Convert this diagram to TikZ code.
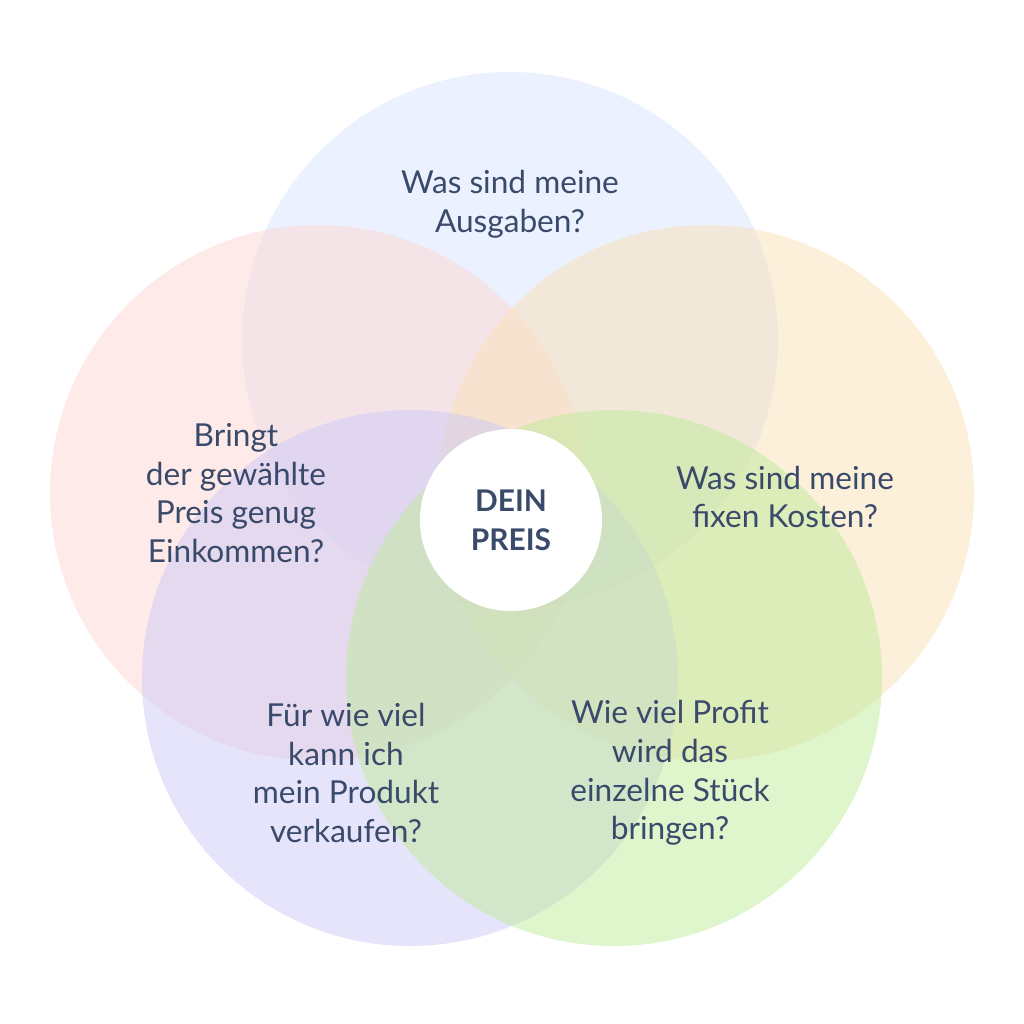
\documentclass[tikz,border=0pt]{standalone}
\usepackage{fontspec}
\setmainfont{Lato}
\definecolor{txt}{RGB}{58,74,107}
\definecolor{cblue}{RGB}{215,227,253}
\definecolor{cred}{RGB}{253,215,211}
\definecolor{cyellow}{RGB}{249,225,181}
\definecolor{cviolet}{RGB}{205,201,247}
\definecolor{cgreen}{RGB}{191,235,153}
\tikzset{
  question/.style = {align=center, text=txt, font=\fontsize{18}{22}\selectfont},
  disc/.style     = {fill opacity=0.5, draw=none}
}
\begin{document}
\begin{tikzpicture}[x = {(0.02cm, 0cm)},
                    y = {(0cm, -0.02cm)}]

  \useasboundingbox (0, 0) rectangle (1024, 1024);

  % draw circles
  \fill[disc, cblue]   (510, 340) circle (268); % top
  \fill[disc, cred]    (318, 493) circle (268); % left
  \fill[disc, cyellow] (706, 493) circle (268); % right
  \fill[disc, cviolet] (410, 678) circle (268); % bottom left
  \fill[disc, cgreen]  (614, 678) circle (268); % bottom right
  \fill[white]         (511, 520) circle (91);  % centre

  % labels
  \node[question] (costs)  at (510, 204) {Was sind meine\\Ausgaben?};
  \node[question] (income) at (236, 493) {Bringt\\der gewählte\\Preis genug\\Einkommen?};
  \node[question] (fixed)  at (785, 497) {Was sind meine\\fixen Kosten?};
  \node[question] (sell)   at (346, 773) {Für wie viel\\kann ich\\mein Produkt\\verkaufen?};
  \node[question] (profit) at (670, 773) {Wie viel Profit\\wird das\\einzelne Stück\\bringen?};
  \node[question, font=\fontsize{17}{22}\selectfont\bfseries] (price) at (511, 520) {DEIN\\PREIS};
\end{tikzpicture}
\end{document}
